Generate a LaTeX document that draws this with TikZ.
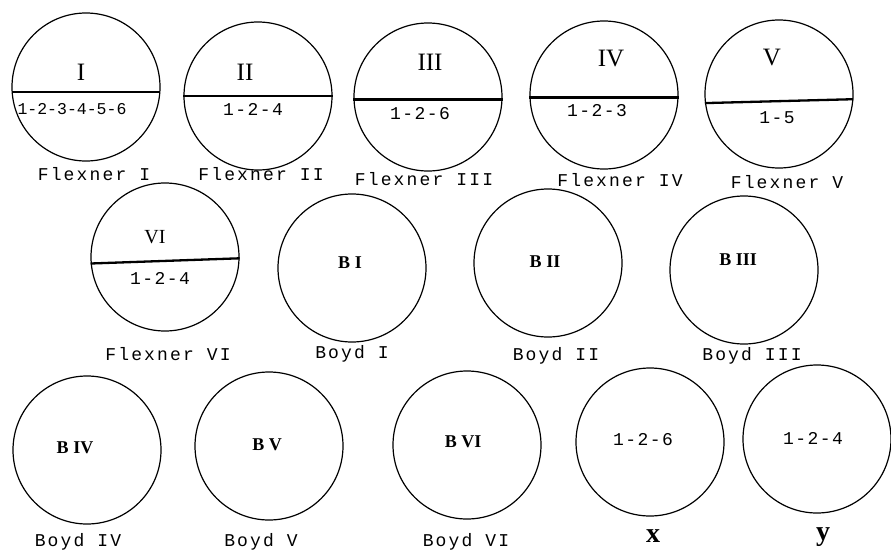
\documentclass[tikz,border=0pt]{standalone}
\usepackage{fontspec}
\setmainfont{Liberation Serif}
\newfontfamily\labf[LetterSpace=12]{Liberation Mono}
\newfontfamily\numf[LetterSpace=8]{Liberation Mono}
\newfontfamily\numtight{Liberation Mono}
\newfontfamily\romf{Liberation Serif}
\tikzset{
  circ/.style={draw, circle, minimum size=148pt, inner sep=0pt, line width=1.2pt},
  chord/.style={line width=2.3pt},
  lab/.style={font=\labf\fontsize{18}{18}\selectfont, inner sep=0pt},
  rom/.style={font=\romf\fontsize{25}{25}\selectfont, inner sep=0pt},
  nums/.style={font=\numf\fontsize{18}{18}\selectfont, inner sep=0pt},
  bl/.style={font=\romf\bfseries\fontsize{18}{18}\selectfont, inner sep=0pt},
  xy/.style={font=\romf\bfseries\fontsize{28}{28}\selectfont, inner sep=0pt}
}
\begin{document}
\begin{tikzpicture}[x=1pt,y=-1pt]
\fill[white] (0,0) rectangle (891,554);
\useasboundingbox (0,0) rectangle (891,554);
% Row 1
\node[circ] (cI) at (86,87) {};
\node[circ] (cII) at (258,96) {};
\node[circ] (cIII) at (428,97) {};
\node[circ] (cIV) at (604,95) {};
\node[circ] (cV) at (779,94) {};
\draw[chord] (cI.184) -- (cI.-4);
\draw[chord] (cII.180) -- (cII.0);
\draw[chord] (cIII.182) -- (cIII.-2);
\draw[chord] (cIV.182) -- (cIV.-2);
\draw[chord] (cV.187) -- (cV.-4);
\node[rom] (tI) at (81,72) {I};
\node[rom] (tII) at (245,72) {II};
\node[rom] (tIII) at (430,62) {III};
\node[rom] (tIV) at (611,59) {IV};
\node[rom] (tV) at (772,58) {V};
\node[font=\numtight\fontsize{16.5}{16.5}\selectfont, inner sep=0pt] (nI) at (72,109) {1-2-3-4-5-6};
\node[nums] (nII) at (253,109) {1-2-4};
\node[nums] (nIII) at (420,114) {1-2-6};
\node[nums] (nIV) at (597,111) {1-2-3};
\node[nums] (nV) at (777,118) {1-5};
\node[lab] (lI) at (94,174) {Flexner I};
\node[lab] (lII) at (261,174) {Flexner II};
\node[lab] (lIII) at (424,179) {Flexner III};
\node[lab] (lIV) at (620,180) {Flexner IV};
\node[lab] (lV) at (787,182) {Flexner V};
% Row 2
\node[circ] (cVI) at (165,257) {};
\draw[chord] (cVI.185) -- (cVI.-1);
\node[font=\romf\fontsize{20}{20}\selectfont, inner sep=0pt] (tVI) at (155,237) {VI};
\node[nums] (nVI) at (160,278) {1-2-4};
\node[lab] (lVI) at (168,354) {Flexner VI};
\node[circ] (cBI) at (352,268) {};
\node[bl] (tBI) at (350,263) {B I};
\node[lab] (lBI) at (352,354) {Boyd I};
\node[circ] (cBII) at (548,263) {};
\node[bl] (tBII) at (545,262) {B II};
\node[lab] (lBII) at (556,356) {Boyd II};
\node[circ] (cBIII) at (744,270) {};
\node[bl] (tBIII) at (738,260) {B III};
\node[lab] (lBIII) at (752,356) {Boyd III};
% Row 3
\node[circ] (cBIV) at (87,450) {};
\node[bl] (tBIV) at (75,448) {B IV};
\node[lab] (lBIV) at (78,542) {Boyd IV};
\node[circ] (cBV) at (269,446) {};
\node[bl] (tBV) at (267,445) {B V};
\node[lab] (lBV) at (261,542) {Boyd V};
\node[circ] (cBVI) at (467,445) {};
\node[bl] (tBVI) at (463,442) {B VI};
\node[lab] (lBVI) at (466,542) {Boyd VI};
\node[circ] (cX) at (650,442) {};
\node[nums] (nX) at (643,440) {1-2-6};
\node[xy] (lX) at (653,536) {x};
\node[circ] (cY) at (817,439) {};
\node[nums] (nY) at (813,438) {1-2-4};
\node[xy] (lY) at (823,537) {y};
\end{tikzpicture}
\end{document}
